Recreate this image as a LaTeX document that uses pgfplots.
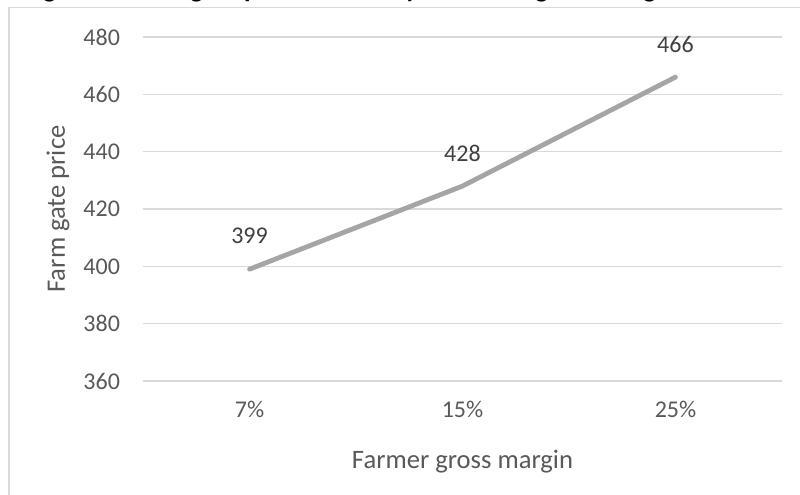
\documentclass[border=0pt]{standalone}
\usepackage{fontspec}
\setmainfont{Carlito}
\usepackage{pgfplots}
\pgfplotsset{compat=1.18}

\definecolor{gridgray}{HTML}{D9D9D9}
\definecolor{linegray}{HTML}{A5A5A5}
\definecolor{ticktext}{HTML}{595959}
\definecolor{labeltext}{HTML}{404040}
\definecolor{framegray}{HTML}{D9D9D9}

\begin{document}
\begin{tikzpicture}
  % page area
  \useasboundingbox (0pt,0pt) rectangle (400pt,-247pt);
  \clip (0pt,0pt) rectangle (400pt,-247pt);
  \fill[white] (0pt,0pt) rectangle (400pt,-247pt);
  % caption line running above the chart frame
  \node[anchor=base west, inner sep=0pt, font=\fontsize{13.4}{16}\selectfont\bfseries]
    at (12pt,1.3pt) {Figure 4: Farm gate price sensitivity to farmer gross margin};
  % chart frame
  \draw[framegray, line width=0.75pt] (4.5pt,-3.75pt) rectangle (410pt,-260pt);

  \begin{axis}[
    at={(71.5pt,-190.5pt)}, anchor=south west,
    scale only axis,
    width=319.5pt, height=172pt,
    xmin=-0.5, xmax=2.5,
    ymin=360, ymax=480,
    xtick={0,1,2},
    xticklabels={7\%,15\%,25\%},
    ytick={360,380,...,480},
    axis line style={draw=none},
    major tick length=0pt,
    ymajorgrids,
    grid style={gridgray, line width=0.75pt},
    tick label style={font=\fontsize{12}{14}\selectfont, text=ticktext},
    /pgf/number format/assume math mode=true,
    yticklabel style={xshift=-8pt},
    xticklabel style={yshift=-6.5pt},
    xlabel={Farmer gross margin},
    ylabel={Farm gate price},
    label style={font=\fontsize{13.3}{15}\selectfont, text=ticktext},
    xlabel style={at={(axis description cs:0.5,-0.2355)}, anchor=center},
    ylabel style={at={(axis description cs:-0.133,0.5)}, anchor=center},
    clip=false,
  ]
    \addplot[linegray, line width=2.4pt, line cap=round, line join=round,
      nodes near coords,
      every node near coord/.style={anchor=center, yshift=16.5pt,
        font=\fontsize{12}{14}\selectfont, text=labeltext},
      point meta=explicit]
      coordinates {(0,399) [399] (1,428) [428] (2,466) [466]};
  \end{axis}
\end{tikzpicture}
\end{document}
